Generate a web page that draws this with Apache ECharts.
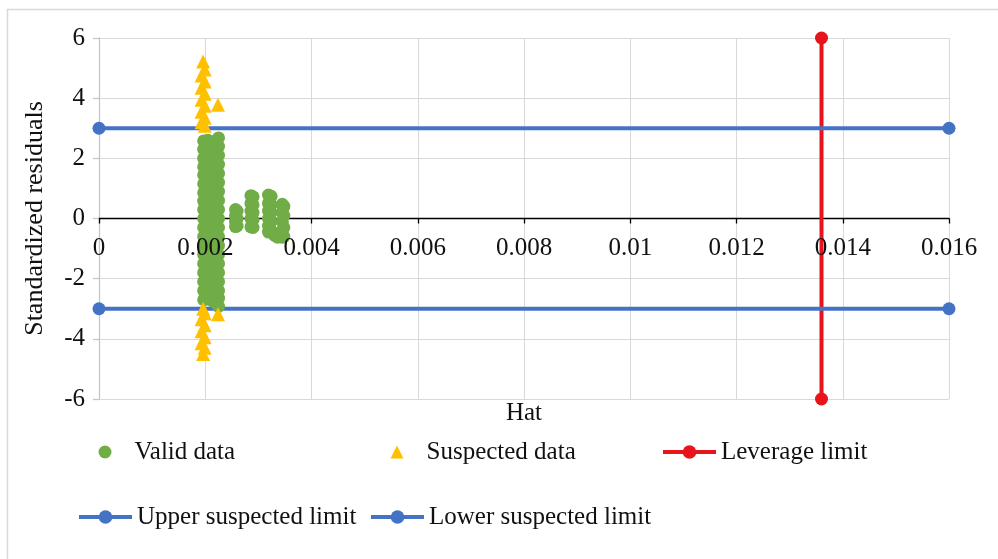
<!DOCTYPE html>
<html>
<head>
<meta charset="utf-8">
<script src="https://cdn.jsdelivr.net/npm/echarts@6/dist/echarts.min.js"></script>
<style>
html,body{margin:0;padding:0;background:#fff;}
#chart{width:998px;height:559px;}
</style>
</head>
<body>
<div id="chart"></div>
<script>
// ---- data ----
const xTickLabels = ['0','0.002','0.004','0.006','0.008','0.01','0.012','0.014','0.016'];
const yTickLabels = ['-6','-4','-2','0','2','4','6'];

// Valid data: [hat, standardized residual]
const validData = [
  // main column
  [0.00197,2.58],[0.00197,2.3],[0.00197,2.0],[0.00197,1.72],[0.00197,1.45],[0.00197,1.15],[0.00197,0.85],[0.00197,0.58],[0.00197,0.3],[0.00197,0.0],
  [0.00197,-0.3],[0.00197,-0.6],[0.00197,-0.9],[0.00197,-1.2],[0.00197,-1.5],[0.00197,-1.8],[0.00197,-2.1],[0.00197,-2.4],[0.00197,-2.7],
  [0.00205,2.6],[0.00205,2.32],[0.00205,2.05],[0.00205,1.75],[0.00205,1.48],[0.00205,1.2],[0.00205,0.9],[0.00205,0.62],[0.00205,0.33],[0.00205,0.05],
  [0.00205,-0.25],[0.00205,-0.55],[0.00205,-0.85],[0.00205,-1.15],[0.00205,-1.45],[0.00205,-1.75],[0.00205,-2.05],[0.00205,-2.35],[0.00205,-2.68],
  [0.00214,2.55],[0.00214,2.28],[0.00214,1.98],[0.00214,1.7],[0.00214,1.4],[0.00214,1.1],[0.00214,0.82],[0.00214,0.52],[0.00214,0.25],[0.00214,-0.05],
  [0.00214,-0.35],[0.00214,-0.65],[0.00214,-0.95],[0.00214,-1.25],[0.00214,-1.55],[0.00214,-1.85],[0.00214,-2.15],[0.00214,-2.45],[0.00214,-2.75],
  [0.00225,2.68],[0.00225,2.4],[0.00225,2.1],[0.00225,1.8],[0.00225,1.5],[0.00225,1.2],[0.00225,0.9],[0.00225,0.6],[0.00225,0.3],[0.00225,0.0],
  [0.00225,-0.3],[0.00225,-0.6],[0.00225,-0.9],[0.00225,-1.2],[0.00225,-1.5],[0.00225,-1.8],[0.00225,-2.1],[0.00225,-2.4],[0.00225,-2.65],[0.00225,-2.92],
  // cluster near 0.0026
  [0.00257,0.30],[0.00257,0.1],[0.00257,-0.1],[0.00257,-0.27],[0.0026,0.25],[0.0026,0.0],[0.0026,-0.25],
  // cluster near 0.0029
  [0.00286,0.76],[0.00286,0.5],[0.00286,0.25],[0.00286,0.0],[0.00286,-0.28],[0.0029,0.72],[0.0029,0.45],[0.0029,0.2],[0.0029,-0.05],[0.0029,-0.3],
  // cluster near 0.0032
  [0.00319,0.78],[0.00319,0.5],[0.00319,0.25],[0.00319,0.0],[0.00319,-0.25],[0.00319,-0.45],[0.00324,0.74],[0.00324,0.45],[0.00324,0.2],[0.00324,-0.1],[0.00324,-0.4],
  [0.0033,-0.55],[0.00336,-0.62],
  // cluster near 0.0035
  [0.00345,0.47],[0.00345,0.2],[0.00345,-0.1],[0.00345,-0.4],[0.00345,-0.62],[0.00348,0.4],[0.00348,0.1],[0.00348,-0.3],[0.00348,-0.6]
];

// Suspected data: [hat, standardized residual]
const suspectedData = [
  [0.00196,5.22],[0.00199,4.95],[0.00193,4.75],[0.00199,4.55],[0.00193,4.35],[0.00199,4.15],[0.00193,3.95],[0.00199,3.75],
  [0.00193,3.55],[0.00199,3.35],[0.00193,3.2],[0.00199,3.08],
  [0.00224,3.78],
  [0.00196,-3.0],[0.00199,-3.15],[0.00193,-3.35],[0.00199,-3.55],[0.00193,-3.75],[0.00199,-3.95],[0.00193,-4.15],[0.00199,-4.3],[0.00196,-4.5],
  [0.00224,-3.18]
];

const leverageLimit = [[0.0136,-6],[0.0136,6]];
const upperLimit = [[0,3],[0.016,3]];
const lowerLimit = [[0,-3],[0.016,-3]];

// ---- chart ----
const FONT = 'Liberation Serif';
const TXT = '#111';
const chart = echarts.init(document.getElementById('chart'), null, {renderer:'canvas'});

function legendBox(name, left, top, iw, ih, pad) {
  return {
    data:[name], left:left, top:top, padding:0, orient:'horizontal',
    itemWidth:iw, itemHeight:ih, selectedMode:false,
    lineStyle:{width:4},
    textStyle:{fontFamily:FONT, fontSize:25, color:TXT, padding:[0,0,0,pad]}
  };
}

chart.setOption({
  animation:false,
  backgroundColor:'#fff',
  grid:{left:99, right:49, top:38, bottom:160, containLabel:false},
  xAxis:[{
    type:'value', min:0, max:0.016, interval:0.002,
    axisLine:{show:true, onZero:true, lineStyle:{color:'#000', width:1.3}},
    axisTick:{show:true, inside:false, length:5, lineStyle:{color:'#000', width:1.3}},
    axisLabel:{show:false},
    splitLine:{show:true, lineStyle:{color:'#d9d9d9', width:1}}
  },{
    type:'value', min:0, max:0.016, interval:0.002, position:'bottom', offset:-180.5, z:10,
    axisLine:{show:false, onZero:false},
    axisTick:{show:false},
    splitLine:{show:false},
    axisLabel:{show:true, margin:17, fontFamily:FONT, fontSize:25, color:TXT,
      formatter:function(v){ return xTickLabels[Math.round(v/0.002)]; }}
  }],
  yAxis:{
    type:'value', min:-6, max:6, interval:2,
    name:'Standardized residuals', nameLocation:'middle', nameRotate:90, nameGap:51,
    nameTextStyle:{fontFamily:FONT, fontSize:26, color:TXT},
    axisLine:{show:true, onZero:false, lineStyle:{color:'#c6c6c6', width:1.3}},
    axisTick:{show:true, inside:false, length:6, lineStyle:{color:'#c6c6c6', width:1.3}},
    axisLabel:{margin:14, fontFamily:FONT, fontSize:25, color:TXT,
      formatter:function(v){ return yTickLabels[Math.round((v+6)/2)]; }},
    splitLine:{show:true, lineStyle:{color:'#d9d9d9', width:1}}
  },
  legend:[
    legendBox('Valid data', 98.5, 439.5, 13, 13, 18),
    legendBox('Suspected data', 390.5, 439.5, 13, 13, 18),
    legendBox('Leverage limit', 661, 439.5, 53, 17, 0),
    legendBox('Upper suspected limit', 77, 504.5, 53, 17, 0),
    legendBox('Lower suspected limit', 369, 504.5, 53, 17, 0)
  ],
  graphic:[
    {type:'rect', silent:true, z:-1, shape:{x:7.5, y:9.5, width:1000, height:560},
      style:{fill:'none', stroke:'#d9d9d9', lineWidth:1.5}},
    {type:'text', x:524, y:413, style:{text:'Hat', fontFamily:FONT, fontSize:25, fill:TXT, align:'center', verticalAlign:'middle'}}
  ],
  series:[
    {name:'Valid data', type:'scatter', data:validData, xAxisIndex:0, z:4,
      symbol:'circle', symbolSize:13, itemStyle:{color:'#70AD47', opacity:1}},
    {name:'Suspected data', type:'scatter', data:suspectedData, xAxisIndex:0, z:5,
      symbol:'triangle', symbolSize:14, itemStyle:{color:'#FFC000', opacity:1}},
    {name:'Leverage limit', type:'line', data:leverageLimit, xAxisIndex:0, z:3, clip:false,
      symbol:'circle', symbolSize:13, showAllSymbol:true,
      lineStyle:{color:'#E8141B', width:4}, itemStyle:{color:'#E8141B'}},
    {name:'Upper suspected limit', type:'line', data:upperLimit, xAxisIndex:0, z:3, clip:false,
      symbol:'circle', symbolSize:13, showAllSymbol:true,
      lineStyle:{color:'#4472C4', width:4}, itemStyle:{color:'#4472C4'}},
    {name:'Lower suspected limit', type:'line', data:lowerLimit, xAxisIndex:0, z:3, clip:false,
      symbol:'circle', symbolSize:13, showAllSymbol:true,
      lineStyle:{color:'#4472C4', width:4}, itemStyle:{color:'#4472C4'}}
  ]
});
</script>
</body>
</html>
